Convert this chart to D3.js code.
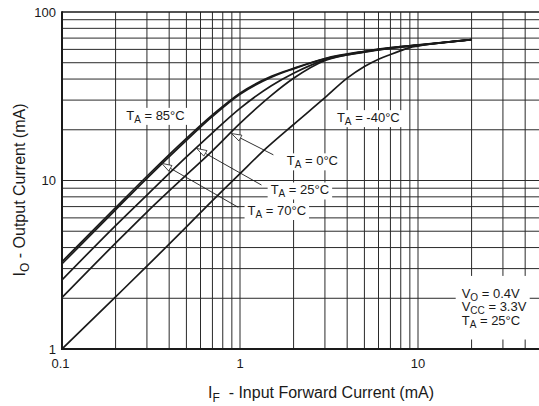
<!DOCTYPE html>
<html>
<head>
<meta charset="utf-8">
<script src="https://cdn.jsdelivr.net/npm/d3@7/dist/d3.min.js"></script>
<style>
  html, body { margin: 0; padding: 0; background: #fff; }
  svg { display: block; }
  text { font-family: "Liberation Sans", Arial, sans-serif; fill: #1a1a1a; }
</style>
</head>
<body>
<svg id="chart" width="539" height="406"></svg>
<script>
// ---- Data (IF in mA, IO in mA) ----
const IF_85 = [0.1, 0.2, 0.3, 0.5, 0.7, 1, 1.5, 2, 3, 5, 7, 10, 20];
const IO_85 = [3.3, 6.9, 10.6, 17.8, 24.5, 33, 41.5, 46.3, 53, 58.5, 61.5, 63.8, 68.5];
const IF_70 = [0.1, 0.2, 0.3, 0.5, 0.7, 1, 1.5, 2, 3, 5, 7, 10, 20];
const IO_70 = [3.2, 6.7, 10.3, 17.3, 24, 32.5, 41, 46, 52.8, 58.3, 61.3, 63.7, 68.5];
const IF_25 = [0.1, 0.2, 0.3, 0.5, 0.7, 1, 1.5, 2, 3, 5, 7, 10, 20];
const IO_25 = [2.57, 5.4, 8.2, 13.8, 19.2, 26.8, 36.5, 43.3, 52, 58, 61, 63.5, 68.5];
const IF_0 = [0.1, 0.2, 0.3, 0.5, 0.7, 1, 1.5, 2, 3, 5, 7, 10, 20];
const IO_0 = [2.02, 4.25, 6.5, 10.8, 15.0, 21.8, 32, 40.4, 51.5, 57.8, 60.8, 63.4, 68.5];
const IF_m40 = [0.1, 0.2, 0.3, 0.5, 0.7, 1, 1.4, 2, 3, 4, 5, 6, 7, 8, 9, 10, 20];
const IO_m40 = [1.0, 2.04, 3.1, 5.3, 7.6, 11.0, 15.5, 21.5, 31, 40.5, 47.5, 52.5, 56, 59, 61.5, 62.8, 68.5];

const xTickValues = [0.1, 1, 10];
const xTickLabels = ["0.1", "1", "10"];
const yTickValues = [1, 10, 100];
const yTickLabels = ["1", "10", "100"];

// Annotation labels [IF, IO] anchor (center) in data coords
const curveLabels = [
  { text: "85°C", pos: [0.335, 22.9] },
  { text: "-40°C", pos: [5.26, 22.2] },
  { text: "0°C", pos: [2.55, 12.3] },
  { text: "25°C", pos: [2.17, 8.26] },
  { text: "70°C", pos: [1.61, 6.24] }
];
const arrows = [
  { from: [1.54, 14.2], to: [0.896, 19.0] },
  { from: [1.32, 9.4], to: [0.571, 15.5] },
  { from: [0.978, 6.93], to: [0.363, 12.65] }
];
const conditions = [
  { main: "V", sub: "O", rest: " = 0.4V" },
  { main: "V", sub: "CC", rest: " = 3.3V" },
  { main: "T", sub: "A", rest: " = 25°C" }
];
const condPos = [17.6, 2.01];

(function () {
// ---- Layout ----
const W = 539, H = 406;
const mLeft = 62, mTop = 12, mBottom = 349;
const decadeX = 178;
const svg = d3.select("#chart");

const x = d3.scaleLog().domain([0.1, 100]).range([mLeft, mLeft + 3 * decadeX]);
const y = d3.scaleLog().domain([1, 100]).range([mBottom, mTop]);

svg.append("defs").append("clipPath").attr("id", "plotclip")
  .append("rect").attr("x", mLeft).attr("y", mTop).attr("width", W - mLeft).attr("height", mBottom - mTop);

const grid = svg.append("g").attr("clip-path", "url(#plotclip)");

// vertical grid
const xGrid = [];
for (let d = 0.1; d < 100; d *= 10) for (let k = 1; k <= 9; k++) xGrid.push(+(d * k).toPrecision(3));
grid.selectAll("line.vx").data(xGrid.filter(v => v > 0.1)).enter().append("line")
  .attr("x1", d => x(d)).attr("x2", d => x(d))
  .attr("y1", mTop).attr("y2", mBottom)
  .attr("stroke", "#2a2a2a").attr("stroke-width", 1);

// horizontal grid
const yGrid = [];
for (let d = 1; d < 100; d *= 10) for (let k = 1; k <= 9; k++) yGrid.push(+(d * k).toPrecision(3));
grid.selectAll("line.hy").data(yGrid.filter(v => v > 1)).enter().append("line")
  .attr("x1", mLeft).attr("x2", W)
  .attr("y1", d => y(d)).attr("y2", d => y(d))
  .attr("stroke", "#2a2a2a").attr("stroke-width", 1);

// top border
svg.append("line").attr("x1", mLeft).attr("x2", W).attr("y1", y(100)).attr("y2", y(100))
  .attr("stroke", "#1a1a1a").attr("stroke-width", 1.6);

// ---- labels with white boxes ----
const labelLayer = svg.append("g");
const curveLayer = svg.append("g").attr("clip-path", "url(#plotclip)");
const arrowLayer = svg.append("g");

function addTA(g, cx, by, rest, anchor) {
  const t = g.append("text").attr("x", cx).attr("y", by)
    .attr("font-size", 13).attr("text-anchor", anchor || "middle");
  t.append("tspan").text("T");
  t.append("tspan").attr("font-size", 10).attr("dy", 3).text("A");
  t.append("tspan").attr("dy", -3).text(rest);
  return t;
}

function boxBehind(g, t, px, py) {
  const b = t.node().getBBox();
  g.insert("rect", "text")
    .attr("x", b.x - px).attr("y", b.y - py)
    .attr("width", b.width + 2 * px).attr("height", b.height + 2 * py)
    .attr("fill", "#fff");
}

curveLabels.forEach(l => {
  const g = labelLayer.append("g");
  const t = addTA(g, x(l.pos[0]), y(l.pos[1]), " = " + l.text);
  boxBehind(g, t, 3, 0);
});

// conditions
{
  const g = labelLayer.append("g");
  const cx = x(condPos[0]);
  const by = y(condPos[1]);
  const texts = [];
  conditions.forEach((c, i) => {
    const t = g.append("text").attr("x", cx).attr("y", by + i * 13.3).attr("font-size", 13);
    t.append("tspan").text(c.main);
    t.append("tspan").attr("font-size", 10).attr("dy", 3).text(c.sub);
    t.append("tspan").attr("dy", -3).text(c.rest);
    texts.push(t);
  });
  const bbs = texts.map(t => t.node().getBBox());
  const x0 = d3.min(bbs, b => b.x) - 6, x1 = d3.max(bbs, b => b.x + b.width) + 3;
  const y0 = d3.min(bbs, b => b.y) - 10, y1 = d3.max(bbs, b => b.y + b.height) + 10;
  g.insert("rect", "text").attr("x", x0).attr("y", y0).attr("width", x1 - x0).attr("height", y1 - y0).attr("fill", "#fff");
}

// ---- curves ----
const series = [
  [IF_85, IO_85], [IF_70, IO_70], [IF_25, IO_25], [IF_0, IO_0], [IF_m40, IO_m40]
];
const line = d3.line().x(d => x(d[0])).y(d => y(d[1])).curve(d3.curveMonotoneX);
series.forEach(([xs, ys]) => {
  curveLayer.append("path")
    .attr("d", line(xs.map((v, i) => [v, ys[i]])))
    .attr("fill", "none").attr("stroke", "#1a1a1a").attr("stroke-width", 1.7);
});

// ---- arrows ----
arrows.forEach(a => {
  const x1 = x(a.from[0]), y1 = y(a.from[1]);
  const x2 = x(a.to[0]), y2 = y(a.to[1]);
  const ang = Math.atan2(y1 - y2, x1 - x2);
  const L = 10, hw = 3.2;
  const bx = x2 + L * Math.cos(ang), by = y2 + L * Math.sin(ang);
  const nx = -Math.sin(ang) * hw, ny = Math.cos(ang) * hw;
  arrowLayer.append("line").attr("x1", x1).attr("y1", y1).attr("x2", bx).attr("y2", by)
    .attr("stroke", "#1a1a1a").attr("stroke-width", 0.9);
  arrowLayer.append("path")
    .attr("d", `M${x2},${y2}L${bx + nx},${by + ny}L${bx - nx},${by - ny}Z`)
    .attr("fill", "#fff").attr("stroke", "#1a1a1a").attr("stroke-width", 0.8);
});

// ---- axes lines ----
svg.append("line").attr("x1", mLeft).attr("x2", mLeft).attr("y1", mTop - 0.8).attr("y2", mBottom + 1)
  .attr("stroke", "#1a1a1a").attr("stroke-width", 2);
svg.append("line").attr("x1", mLeft - 1).attr("x2", W).attr("y1", mBottom).attr("y2", mBottom)
  .attr("stroke", "#1a1a1a").attr("stroke-width", 2);

// ---- tick labels ----
svg.selectAll("text.xt").data(xTickValues).enter().append("text")
  .attr("x", (d, i) => x(d) - (i === 0 ? 1.5 : 0)).attr("y", mBottom + 19)
  .attr("text-anchor", "middle").attr("font-size", 13)
  .text((d, i) => xTickLabels[i]);
svg.selectAll("text.yt").data(yTickValues).enter().append("text")
  .attr("x", mLeft - 6).attr("y", d => y(d) + 4.5)
  .attr("text-anchor", "end").attr("font-size", 13)
  .text((d, i) => yTickLabels[i]);

// ---- axis titles ----
{
  const t = svg.append("text").attr("x", 321).attr("y", 398)
    .attr("text-anchor", "middle").attr("font-size", 16);
  t.append("tspan").text("I");
  t.append("tspan").attr("font-size", 12).attr("dy", 3.5).text("F");
  t.append("tspan").attr("dy", -3.5).text("\u00a0 - Input Forward Current (mA)");
}
{
  const t = svg.append("text").attr("transform", "translate(25,190) rotate(-90)")
    .attr("text-anchor", "middle").attr("font-size", 16);
  t.append("tspan").text("I");
  t.append("tspan").attr("font-size", 12).attr("dy", 3.5).text("O");
  t.append("tspan").attr("dy", -3.5).text(" - Output Current (mA)");
}
})();
</script>
</body>
</html>
